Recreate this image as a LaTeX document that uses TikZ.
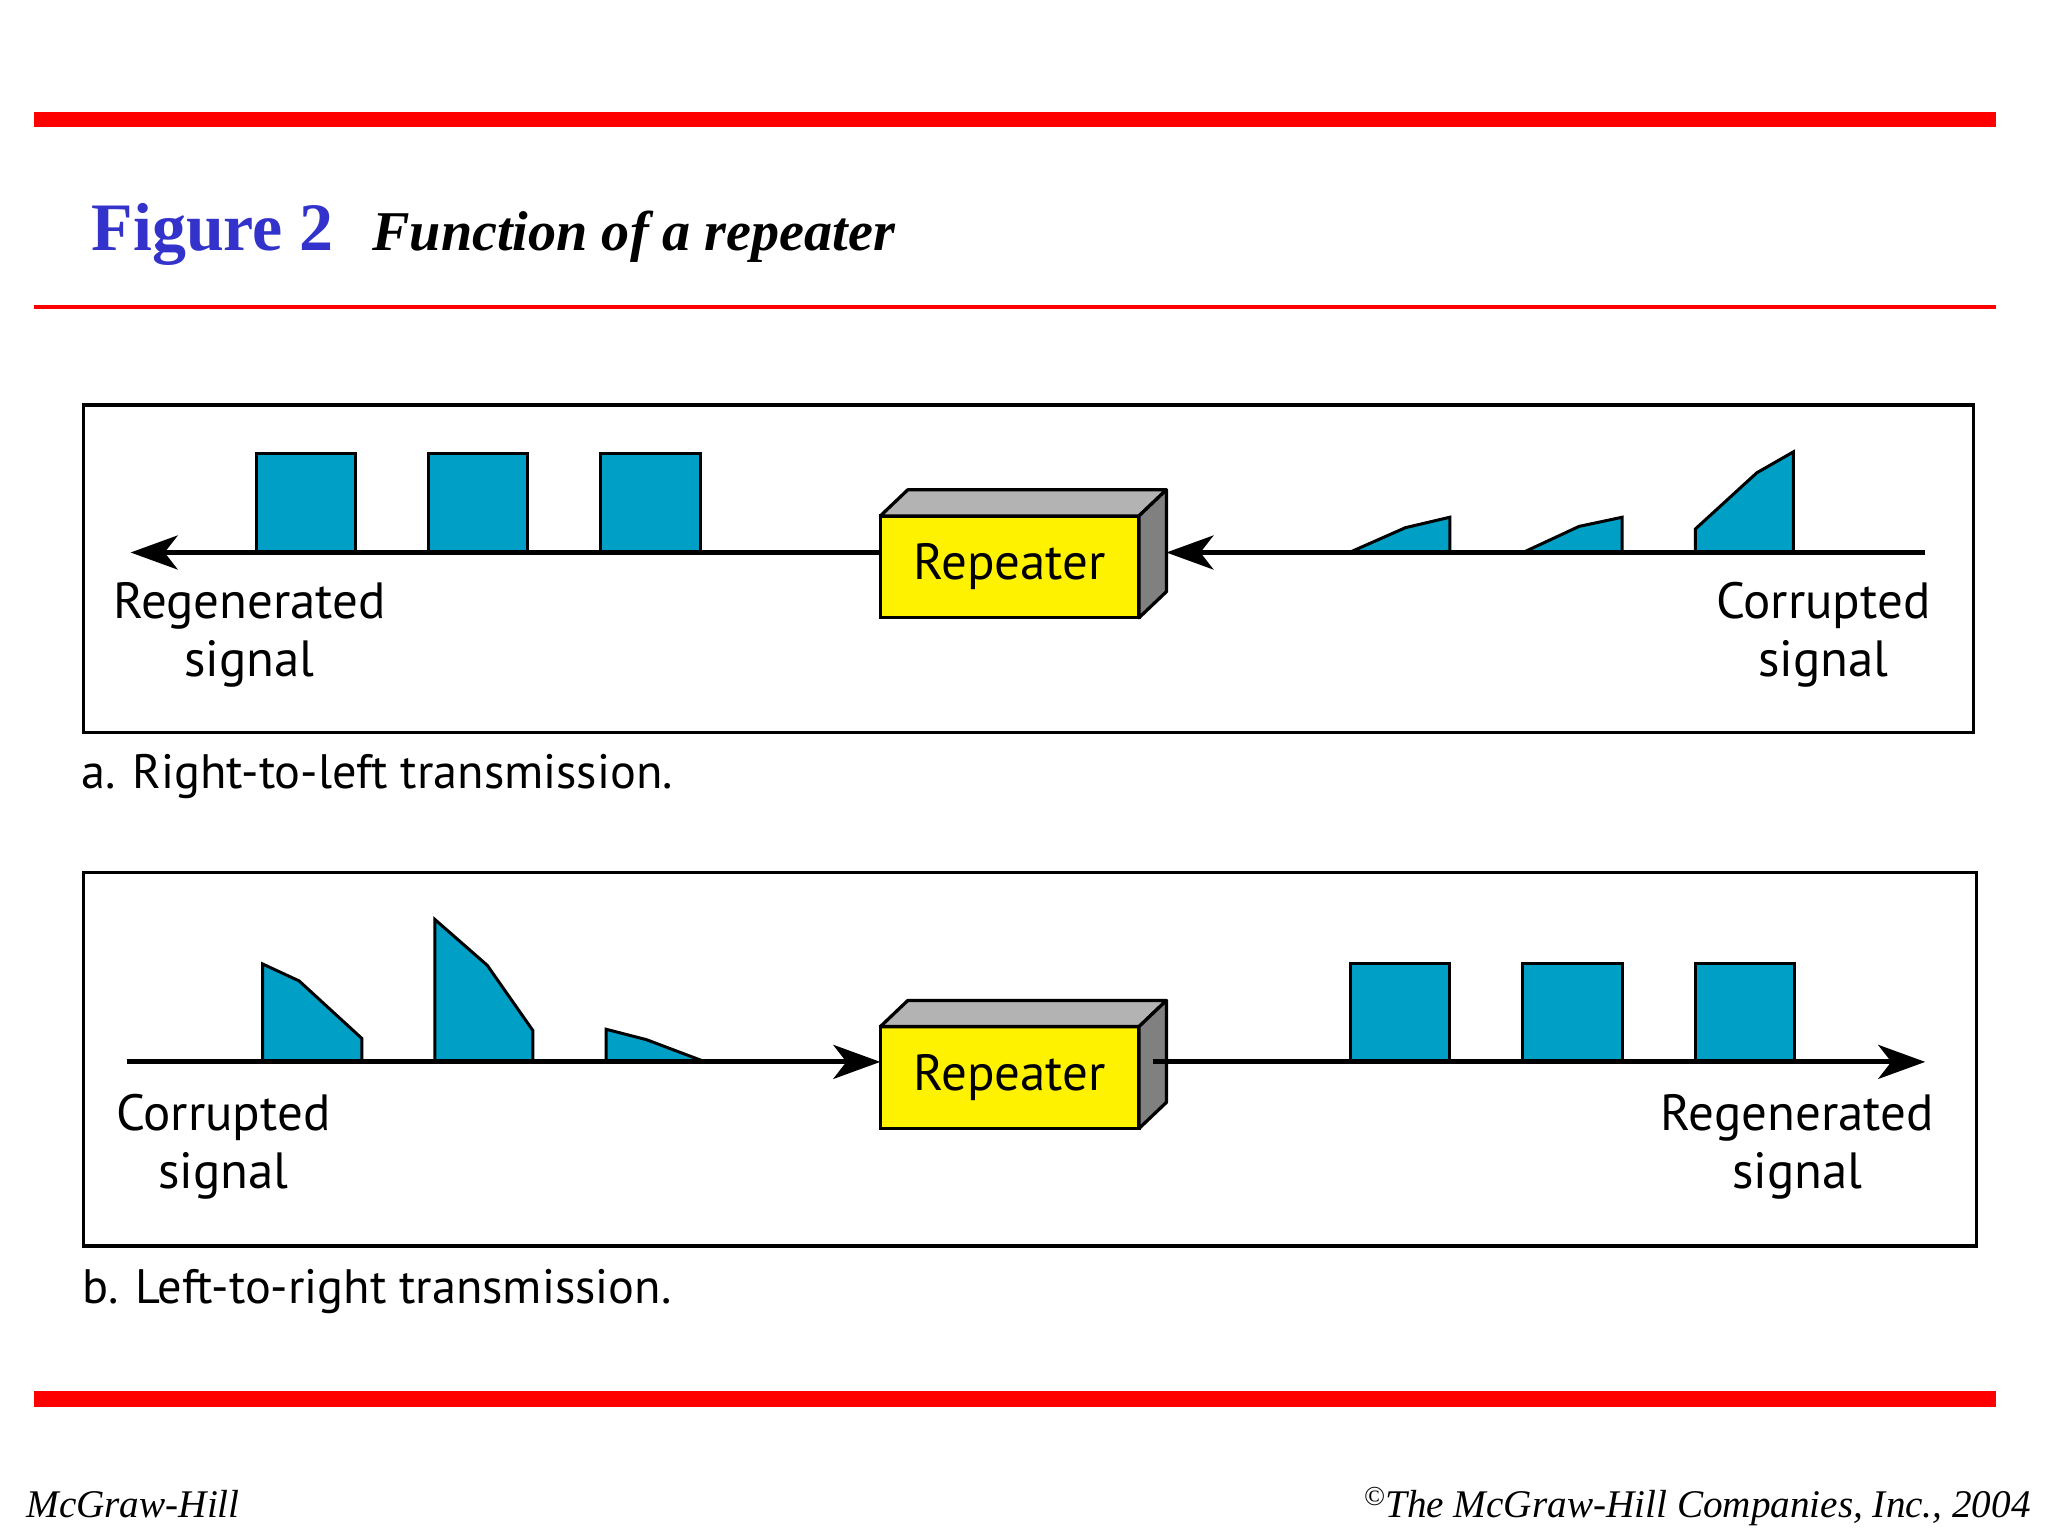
\documentclass[tikz,border=0pt]{standalone}
\usepackage{fontspec}
\setmainfont{Liberation Serif}
\newfontfamily\lblfont{PT Sans}
\usetikzlibrary{arrows.meta,calc}
\definecolor{sigblue}{RGB}{0,160,198}
\definecolor{titleblue}{RGB}{51,51,204}
\definecolor{topgray}{RGB}{179,179,179}
\definecolor{sidegray}{RGB}{128,128,128}
\begin{document}
\begin{tikzpicture}[x=1pt,y=-1pt,
  frame/.style={draw=black,line width=2.5pt},
  sig/.style={line width=3.8pt},
  tipstyle/.style={-{Stealth[length=36pt,width=26pt,inset=10pt]}},
  pulse/.style={fill=sigblue,draw=black,line width=2.3pt,line join=miter},
  rep/.style={draw=black,fill=yellow,line width=2.5pt,minimum width=198pt,minimum height=78pt,inner sep=0pt,outer sep=0pt,font=\lblfont\fontsize{39}{44}\selectfont},
  lbl/.style={font=\lblfont\fontsize{39}{44}\selectfont,align=center,inner sep=0pt},
  capt/.style={font=\lblfont\fontsize{37}{44}\selectfont,inner sep=0pt,anchor=base west},
  face/.style={draw=black,line width=2.5pt,line join=round},
  foot/.style={inner sep=0pt,font=\fontsize{30}{34}\selectfont\itshape},
]
\useasboundingbox[fill=white] (0,0) rectangle (1568,1176);
% red rules
\fill[red] (26,86) rectangle (1528,97);
\fill[red] (26,233.5) rectangle (1528,236.5);
\fill[red] (26,1065) rectangle (1528,1077);
% title
\node[anchor=base west,inner sep=0pt,text=titleblue,font=\fontsize{52}{60}\selectfont\bfseries] (fig) at (70,192) {Figure 2};
\node[anchor=base west,inner sep=0pt,font=\fontsize{43}{50}\selectfont\bfseries\itshape] (ttl) at (285,192) {Function of a repeater};
% frames
\draw[frame] (64,310) rectangle (1511,561);
\draw[frame] (64,668) rectangle (1513,954);
% panel a pulses
\foreach \x in {196,328,460} \draw[pulse] (\x,423) rectangle ++(76,-76);
\draw[pulse] (1033,423) -- (1076,404) -- (1110,396) -- (1110,423) -- cycle;
\draw[pulse] (1166,423) -- (1209,403) -- (1242,396) -- (1242,423) -- cycle;
\draw[pulse] (1298,423) -- (1298,405) -- (1345,362) -- (1373,346) -- (1373,423) -- cycle;
% panel b pulses
\foreach \x in {1034,1166,1298} \draw[pulse] (\x,813) rectangle ++(76,-75);
\draw[pulse] (201,813) -- (201,738) -- (229,751) -- (277,795) -- (277,813) -- cycle;
\draw[pulse] (333,813) -- (333,704) -- (373,739) -- (408,789) -- (408,813) -- cycle;
\draw[pulse] (464,813) -- (464,788) -- (495,796) -- (540,813) -- cycle;
% repeaters
\node[rep] (r1) at (773,434) {Repeater};
\draw[face,fill=topgray] (r1.north west) -- ++(21,-20) -- ++(198,0) -- (r1.north east) -- cycle;
\draw[face,fill=sidegray] (r1.north east) -- ++(21,-20) -- ++(0,78) -- (r1.south east) -- cycle;
\node[rep] (r2) at (773,825) {Repeater};
\draw[face,fill=topgray] (r2.north west) -- ++(21,-20) -- ++(198,0) -- (r2.north east) -- cycle;
\draw[face,fill=sidegray] (r2.north east) -- ++(21,-20) -- ++(0,78) -- (r2.south east) -- cycle;
% signal lines
\coordinate (aL) at (100,423);
\coordinate (aR) at (1474,423);
\coordinate (bL) at (97,813);
\coordinate (bR) at (1474,813);
\draw[sig,tipstyle] (r1.west |- aL) -- (aL);
\draw[sig,tipstyle] (aR) -- ($(r1.east |- aR)+(21,0)$);
\draw[sig,tipstyle] (bL) -- (r2.west |- bL);
\draw[sig,tipstyle] ($(r2.east |- bR)+(11,0)$) -- (bR);
% labels
\node[lbl] (regA) at (191,486) {Regenerated\\signal};
\node[lbl] (corA) at (1396,486) {Corrupted\\signal};
\node[capt] (capA) at (62,604) {a. Right-to-left transmission.};
\node[lbl] (corB) at (171,878) {Corrupted\\signal};
\node[lbl] (regB) at (1376,878) {Regenerated\\signal};
\node[capt] (capB) at (63,998) {b. Left-to-right transmission.};
% footer
\node[foot,anchor=base west] (mh) at (20,1162) {McGraw-Hill};
\node[foot,anchor=base east] (cpy) at (1555,1162) {\textsuperscript{\textcopyright}The McGraw-Hill Companies, Inc., 2004};
\end{tikzpicture}
\end{document}
